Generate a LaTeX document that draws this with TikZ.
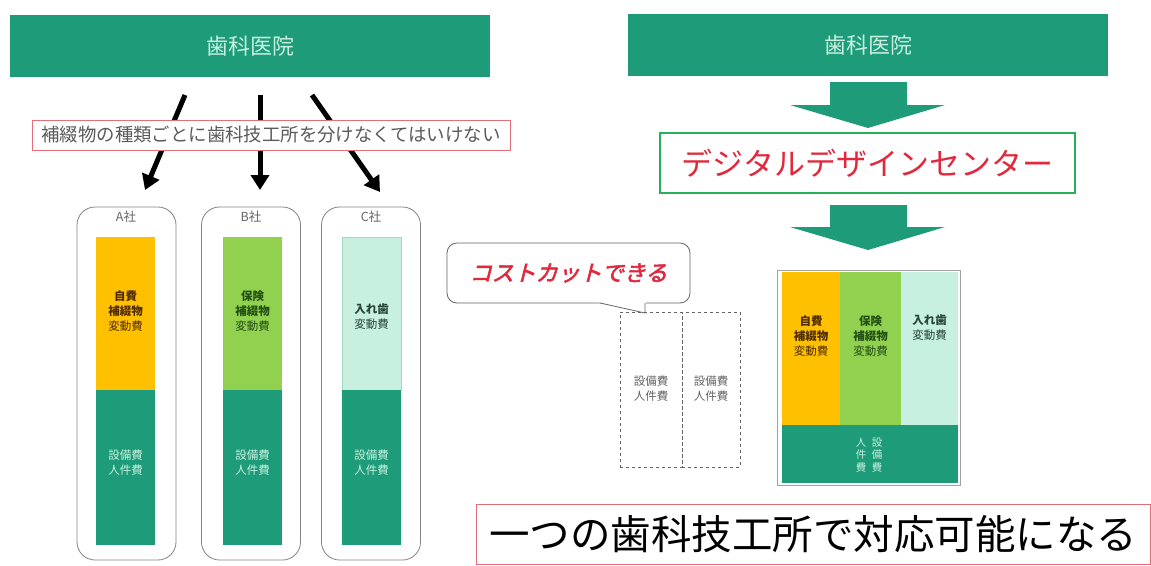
\documentclass[tikz,border=0pt]{standalone}
\usepackage{fontspec}
\setmainfont{Noto Sans CJK JP}
\newfontfamily\cjkbi[FakeSlant=0.25,FakeBold=2.5]{Noto Sans CJK JP}
\usetikzlibrary{arrows.meta}
\definecolor{teal1}{RGB}{30,155,120}
\definecolor{mint}{RGB}{200,240,225}
\definecolor{orng}{RGB}{255,192,0}
\definecolor{lgreen}{RGB}{146,208,80}
\definecolor{redtxt}{RGB}{225,40,60}
\definecolor{pinkb}{RGB}{225,110,120}
\definecolor{graytxt}{RGB}{100,100,100}
\definecolor{ddcgreen}{RGB}{40,175,90}
\definecolor{brownt}{RGB}{80,45,0}
\definecolor{dgreent}{RGB}{35,80,20}
\definecolor{dgrayt}{RGB}{40,70,60}
\begin{document}
\begin{tikzpicture}[x=1pt,y=-1pt,
  header/.style={fill=teal1, draw=none, minimum width=480pt, minimum height=62pt, inner sep=0pt, text=mint, font=\fontsize{22}{25}\selectfont},
  bigarrow/.style={line width=5pt, -{Triangle[length=15pt,width=18pt]}},
  company/.style={draw=graytxt!80, line width=0.8pt, rounded corners=18pt, minimum width=99pt, minimum height=353pt, inner sep=0pt},
  clabel/.style={text=graytxt, font=\fontsize{12.5}{14}\selectfont, inner sep=0pt},
  bar/.style={draw=none, inner sep=0pt},
  bartext/.style={font=\fontsize{11.5}{15}\selectfont, align=center, inner sep=0pt},
  dashbox/.style={draw=graytxt, dashed, line width=0.6pt, minimum height=155pt, inner sep=0pt},
  blockarrow/.style={fill=teal1, draw=none}
]
\useasboundingbox (0,0) rectangle (1151,565);
\fill[white] (0,0) rectangle (1151,565);

% ---------- left side ----------
\node[header] (hL) at (250,46) {歯科医院};

\coordinate (a1s) at (185,95);  \coordinate (a1e) at (145,190);
\coordinate (a2s) at (260,95);  \coordinate (a2e) at (260,190);
\coordinate (a3s) at (312,95);  \coordinate (a3e) at (380,192);
\draw[bigarrow] (a1s) -- (a1e);
\draw[bigarrow] (a2s) -- (a2e);
\draw[bigarrow] (a3s) -- (a3e);

\node[draw=pinkb, fill=white, line width=0.8pt, minimum width=478pt, minimum height=30pt, inner sep=0pt,
      text=graytxt!90!black, font=\fontsize{18.4}{20}\selectfont] (note) at (271,135)
      {補綴物の種類ごとに歯科技工所を分けなくてはいけない};

% company A
\node[company] (cA) at (126.5,383.5) {};
\node[clabel] (lA) at (126,217) {A社};
\node[bar, fill=orng, minimum width=59pt, minimum height=153pt] (aTop) at (125.5,313.5) {};
\node[bar, fill=teal1, minimum width=59pt, minimum height=155pt] (aBot) at (125.5,467.5) {};
\node[bartext, text=brownt] (aTopT) at (125.5,311) {\textbf{自費}\\\textbf{補綴物}\\変動費};
\node[bartext, text=mint] (aBotT) at (125.5,463) {設備費\\人件費};

% company B
\node[company] (cB) at (251,383.5) {};
\node[clabel] (lB) at (251,217) {B社};
\node[bar, fill=lgreen, minimum width=59pt, minimum height=153pt] (bTop) at (252.5,313.5) {};
\node[bar, fill=teal1, minimum width=59pt, minimum height=155pt] (bBot) at (252.5,467.5) {};
\node[bartext, text=dgreent] (bTopT) at (252.5,311) {\textbf{保険}\\\textbf{補綴物}\\変動費};
\node[bartext, text=mint] (bBotT) at (252.5,463) {設備費\\人件費};

% company C
\node[company] (cC) at (371,383.5) {};
\node[clabel] (lC) at (371,217) {C社};
\node[bar, fill=mint, draw=teal1!40, minimum width=59pt, minimum height=153pt] (cTop) at (371.5,313.5) {};
\node[bar, fill=teal1, minimum width=59pt, minimum height=155pt] (cBot) at (371.5,467.5) {};
\node[bartext, text=dgrayt] (cTopT) at (371.5,317) {\textbf{入れ歯}\\変動費};
\node[bartext, text=mint] (cBotT) at (371.5,463) {設備費\\人件費};

% ---------- right side ----------
\node[header] (hR) at (868,45) {歯科医院};

\fill[blockarrow] (830,82) -- (907,82) -- (907,105) -- (945,105) -- (868,128) -- (790,105) -- (830,105) -- cycle;

\node[draw=ddcgreen, line width=2pt, fill=white, minimum width=415pt, minimum height=60pt, inner sep=0pt,
      text=redtxt, font=\fontsize{31}{34}\selectfont] (ddc) at (867.5,163) {デジタルデザインセンター};

\fill[blockarrow] (830,205) -- (907,205) -- (907,227) -- (945,227) -- (868,250) -- (790,227) -- (830,227) -- cycle;

% combined block
\node[draw=graytxt!60, line width=0.6pt, minimum width=183pt, minimum height=215pt, inner sep=0pt] (comb) at (868.5,377.5) {};
\node[bar, fill=orng, minimum width=58pt, minimum height=153pt] (rO) at (811,348.5) {};
\node[bar, fill=lgreen, minimum width=61pt, minimum height=153pt] (rG) at (870.5,348.5) {};
\node[bar, fill=mint, minimum width=57pt, minimum height=153pt] (rM) at (929.5,348.5) {};
\node[bar, fill=teal1, minimum width=176pt, minimum height=58pt] (rB) at (870,454) {};
\node[bartext, text=brownt] (rOT) at (811,336) {\textbf{自費}\\\textbf{補綴物}\\変動費};
\node[bartext, text=dgreent] (rGT) at (870.5,336) {\textbf{保険}\\\textbf{補綴物}\\変動費};
\node[bartext, text=dgrayt] (rMT) at (929.5,328) {\textbf{入れ歯}\\変動費};
\node[bartext, text=mint, font=\fontsize{10.5}{12.5}\selectfont] (rBT1) at (861,455) {人\\件\\費};
\node[bartext, text=mint, font=\fontsize{10.5}{12.5}\selectfont] (rBT2) at (877,455) {設\\備\\費};

% callout
\node[draw=graytxt, line width=0.8pt, fill=white, rounded corners=10pt, minimum width=243pt, minimum height=60pt, inner sep=0pt,
      text=redtxt, font=\cjkbi\fontsize{22}{25}\selectfont] (callout) at (568.5,273) {コストカットできる};
\coordinate (tailA) at (600,303);
\coordinate (tailTip) at (645,313);
\coordinate (tailB) at (645,303);
\fill[white] (598,302) -- (tailTip) -- (646,302) -- cycle;
\draw[graytxt, line width=0.8pt] (tailA) -- (tailTip) -- (tailB);

% dashed boxes
\node[dashbox, minimum width=62pt] (d1) at (651,389.5) {};
\node[dashbox, minimum width=58pt] (d2) at (711,389.5) {};
\node[bartext, text=graytxt] (d1T) at (651,389) {設備費\\人件費};
\node[bartext, text=graytxt] (d2T) at (711,389) {設備費\\人件費};

% result
\node[draw=pinkb, line width=1pt, minimum width=674pt, minimum height=60pt, inner sep=0pt,
      font=\fontsize{40.5}{43}\selectfont] (res) at (813,534) {一つの歯科技工所で対応可能になる};
\end{tikzpicture}
\end{document}
